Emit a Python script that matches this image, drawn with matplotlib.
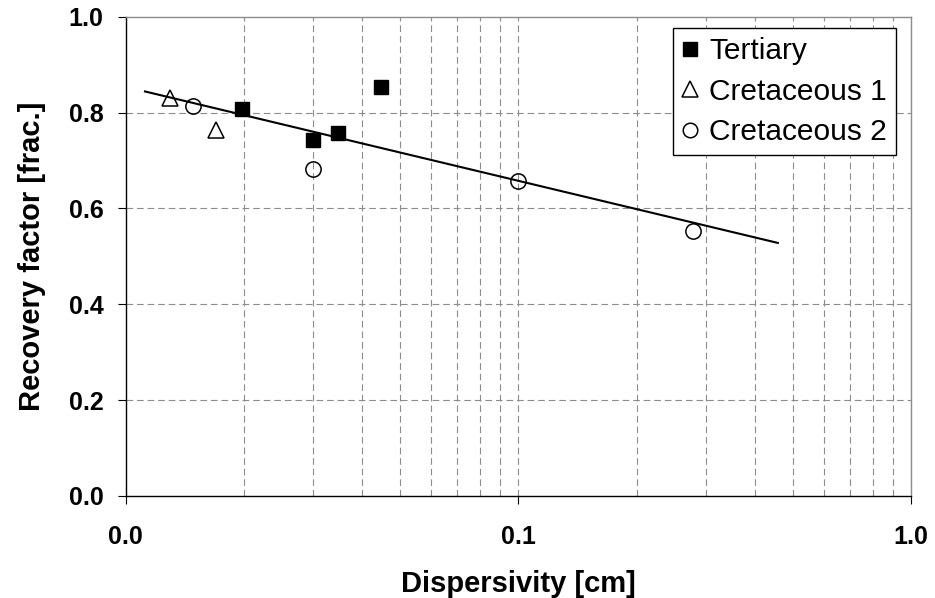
"""Recovery factor versus dispersivity, log x-axis."""
import matplotlib
matplotlib.use("Agg")
import matplotlib.pyplot as plt
from matplotlib.ticker import FixedLocator, FixedFormatter, NullFormatter

plt.rcParams["font.family"] = ["Liberation Sans", "DejaVu Sans"]

# Data
tertiary_x = [0.0198, 0.030, 0.0347, 0.0447]
tertiary_y = [0.808, 0.743, 0.758, 0.854]
cret1_x = [0.0130, 0.0170]
cret1_y = [0.830, 0.764]
cret2_x = [0.0148, 0.030, 0.100, 0.279]
cret2_y = [0.814, 0.682, 0.658, 0.553]
# log trend line end points
trend_x = [0.0112, 0.458]
trend_y = [0.844, 0.528]

x_ticks = [0.01, 0.1, 1.0]
x_tick_labels = ["0.0", "0.1", "1.0"]
x_minor = [k * 10.0 ** e for e in (-2, -1) for k in range(2, 10)]
y_ticks = [0.0, 0.2, 0.4, 0.6, 0.8, 1.0]
y_tick_labels = ["0.0", "0.2", "0.4", "0.6", "0.8", "1.0"]

grid_col = "#8c8c8c"

fig = plt.figure(figsize=(9.35, 5.98), dpi=100)
ax = fig.add_axes([0.1344, 0.1706, 0.9743 - 0.1344, 0.9721 - 0.1706])

ax.set_xscale("log")
ax.set_xlim(0.01, 1.0)
ax.set_ylim(0.0, 1.0)

ax.xaxis.set_major_locator(FixedLocator(x_ticks))
ax.xaxis.set_major_formatter(FixedFormatter(x_tick_labels))
ax.xaxis.set_minor_locator(FixedLocator(x_minor))
ax.xaxis.set_minor_formatter(NullFormatter())
ax.yaxis.set_major_locator(FixedLocator(y_ticks))
ax.yaxis.set_major_formatter(FixedFormatter(y_tick_labels))

# Dashed grey grid
for xv in x_ticks[1:-1] + x_minor:
    ax.axvline(xv, color=grid_col, lw=0.8, dashes=(6, 3.5), zorder=0)
for yv in y_ticks[1:-1]:
    ax.axhline(yv, color=grid_col, lw=0.8, dashes=(6, 3.5), zorder=0)

ax.plot(trend_x, trend_y, color="black", lw=1.5, zorder=2)
ax.plot(tertiary_x, tertiary_y, "s", ms=10.5, color="black", mec="black",
        label="Tertiary", zorder=3)
ax.plot(cret1_x, cret1_y, "^", ms=11.5, mfc="none", mec="black", mew=1.1,
        label="Cretaceous 1", zorder=3)
ax.plot(cret2_x, cret2_y, "o", ms=11, mfc="none", mec="black", mew=1.1,
        label="Cretaceous 2", zorder=3)

for s in ["left", "bottom"]:
    ax.spines[s].set_color("black")
    ax.spines[s].set_linewidth(1.0)
for s in ["top", "right"]:
    ax.spines[s].set_color(grid_col)
    ax.spines[s].set_linewidth(1.0)

ax.tick_params(which="major", direction="out", length=6, width=0.8,
               color="black", labelsize=18)
ax.tick_params(axis="x", which="major", pad=15)
ax.tick_params(axis="y", which="major", pad=10)
ax.tick_params(which="minor", length=0)
for lab in ax.get_xticklabels() + ax.get_yticklabels():
    lab.set_fontweight("bold")

ax.set_xlabel("Dispersivity [cm]", fontsize=21, fontweight="bold", labelpad=15)
ax.set_ylabel("Recovery factor [frac.]", fontsize=21, fontweight="bold",
              labelpad=16)

leg = ax.legend(loc="upper right", bbox_to_anchor=(0.9805, 0.9758),
                fontsize=21.5, frameon=True, fancybox=False, shadow=False,
                framealpha=1, edgecolor="black", borderpad=0.3,
                labelspacing=0.42, handlelength=0.5, handletextpad=0.4,
                borderaxespad=0.0, markerscale=0.95)
leg.get_frame().set_linewidth(1.0)

fig.savefig("out.png", dpi=100)
